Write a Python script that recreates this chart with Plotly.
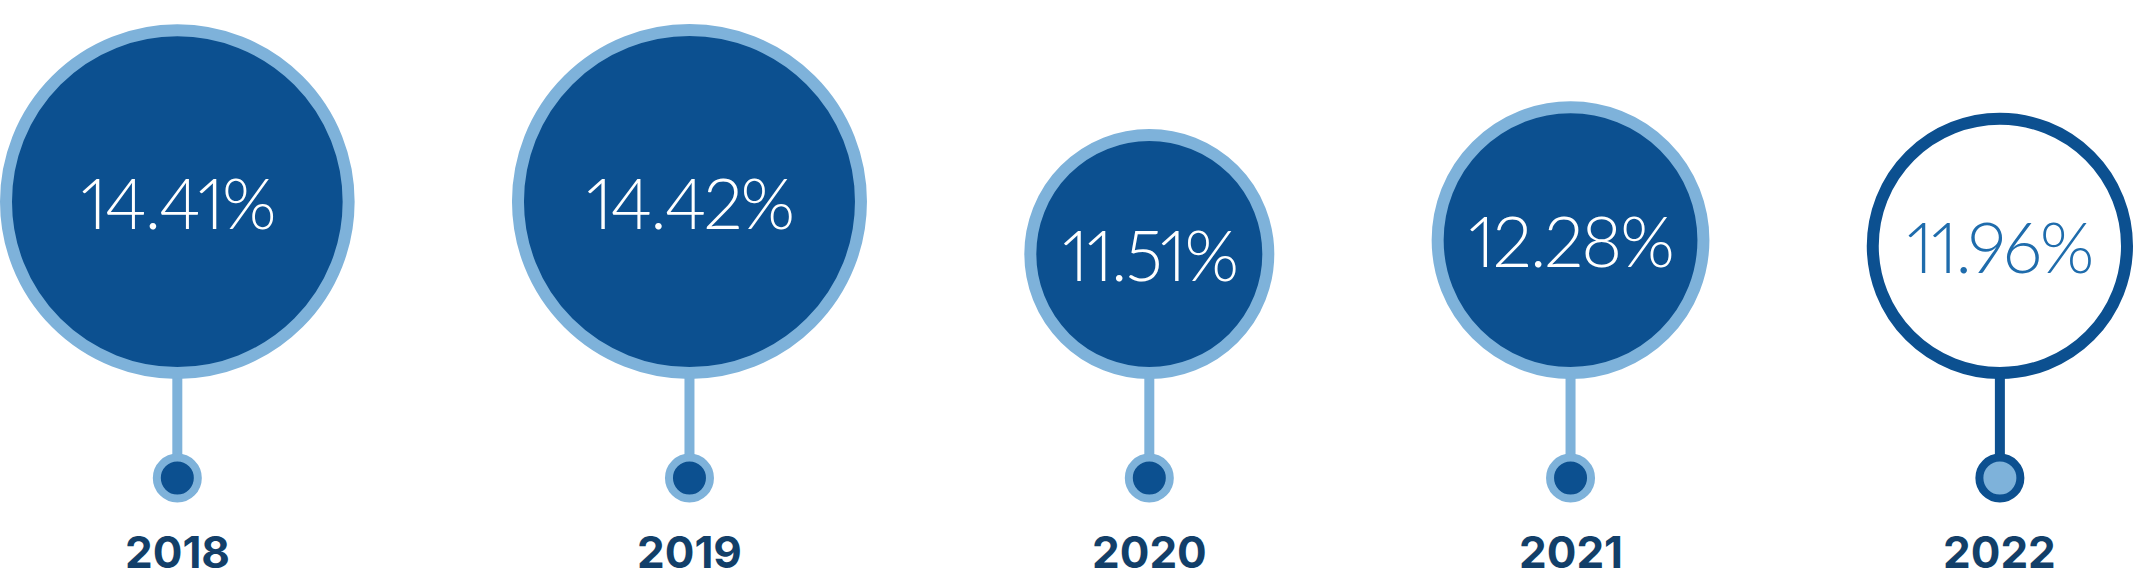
import plotly.graph_objects as go

# ---- data ----
years = ["2018", "2019", "2020", "2021", "2022"]
rates = [14.41, 14.42, 11.51, 12.28, 11.96]
highlight = [False, False, False, False, True]   # outlined (current-year) style

# ---- style ----
W, H = 2134, 583
DARK = "#0c5090"
LIGHT = "#7eb2da"
YEAR_COLOR = "#123f69"
HIGHLIGHT_TEXT = "#1f6cac"
D_MIN, D_MAX = 250, 355        # outer circle diameter (px) for min / max rate
RING = 12                      # ring thickness (px)
BASE = 379                     # bottom of every big circle (px from top)
PIN_Y = 478                    # centre of the small pin circles
PIN_D = 49                     # outer diameter of the pin
PIN_RING = 8
STEM_W = 10
YEAR_Y = 552
VALUE_SIZE = 70

vmin, vmax = min(rates), max(rates)
diam = [D_MIN + (v - vmin) / (vmax - vmin) * (D_MAX - D_MIN) for v in rates]

# pack circles left-to-right with equal gaps across the width
gap = (W - 1 - sum(diam)) / (len(diam) - 1)
cx = []
edge = 0.0
for d in diam:
    cx.append(edge + d / 2)
    edge += d + gap
cy = [BASE - d / 2 for d in diam]

fig = go.Figure()

# stems
for x, hl in zip(cx, highlight):
    fig.add_trace(go.Scatter(
        x=[x, x], y=[BASE - 4, PIN_Y], mode="lines",
        line=dict(color=DARK if hl else LIGHT, width=STEM_W),
        hoverinfo="skip", showlegend=False))

# big circles
fig.add_trace(go.Scatter(
    x=cx, y=cy, mode="markers",
    marker=dict(
        size=[d - RING for d in diam],
        opacity=1,
        color=["white" if hl else DARK for hl in highlight],
        line=dict(color=[DARK if hl else LIGHT for hl in highlight], width=RING),
    ),
    hoverinfo="skip", showlegend=False))

# pins
fig.add_trace(go.Scatter(
    x=cx, y=[PIN_Y] * len(cx), mode="markers",
    marker=dict(
        size=PIN_D - PIN_RING,
        opacity=1,
        color=[LIGHT if hl else DARK for hl in highlight],
        line=dict(color=[DARK if hl else LIGHT for hl in highlight], width=PIN_RING),
    ),
    hoverinfo="skip", showlegend=False))

# value labels
for x, y, v, hl in zip(cx, cy, rates, highlight):
    fig.add_annotation(
        x=x, y=y, text=f"{v:.2f}%", showarrow=False,
        xanchor="center", yanchor="middle",
        font=dict(family="Lato", size=VALUE_SIZE, weight=300,
                  color=HIGHLIGHT_TEXT if hl else "white"))

# year labels
for x, yr in zip(cx, years):
    fig.add_annotation(
        x=x, y=YEAR_Y, text=yr, showarrow=False,
        xanchor="center", yanchor="middle",
        font=dict(family="Inter, Lato", size=44, weight=700, color=YEAR_COLOR))

fig.update_layout(
    width=W, height=H,
    margin=dict(l=0, r=0, t=0, b=0),
    paper_bgcolor="white", plot_bgcolor="white",
    xaxis=dict(range=[0, W], visible=False, fixedrange=True),
    yaxis=dict(range=[H, 0], visible=False, fixedrange=True),
)

post = (
    "document.body.style.margin='0';"
    "document.querySelectorAll('.annotation-text').forEach(function(t){"
    "if(t.style.fontSize==='%dpx'){t.style.fontVariantNumeric='proportional-nums';"
    "t.style.letterSpacing='-2px';}});" % VALUE_SIZE
)

fig.write_html("out.html", config={"displayModeBar": False}, post_script=post)
